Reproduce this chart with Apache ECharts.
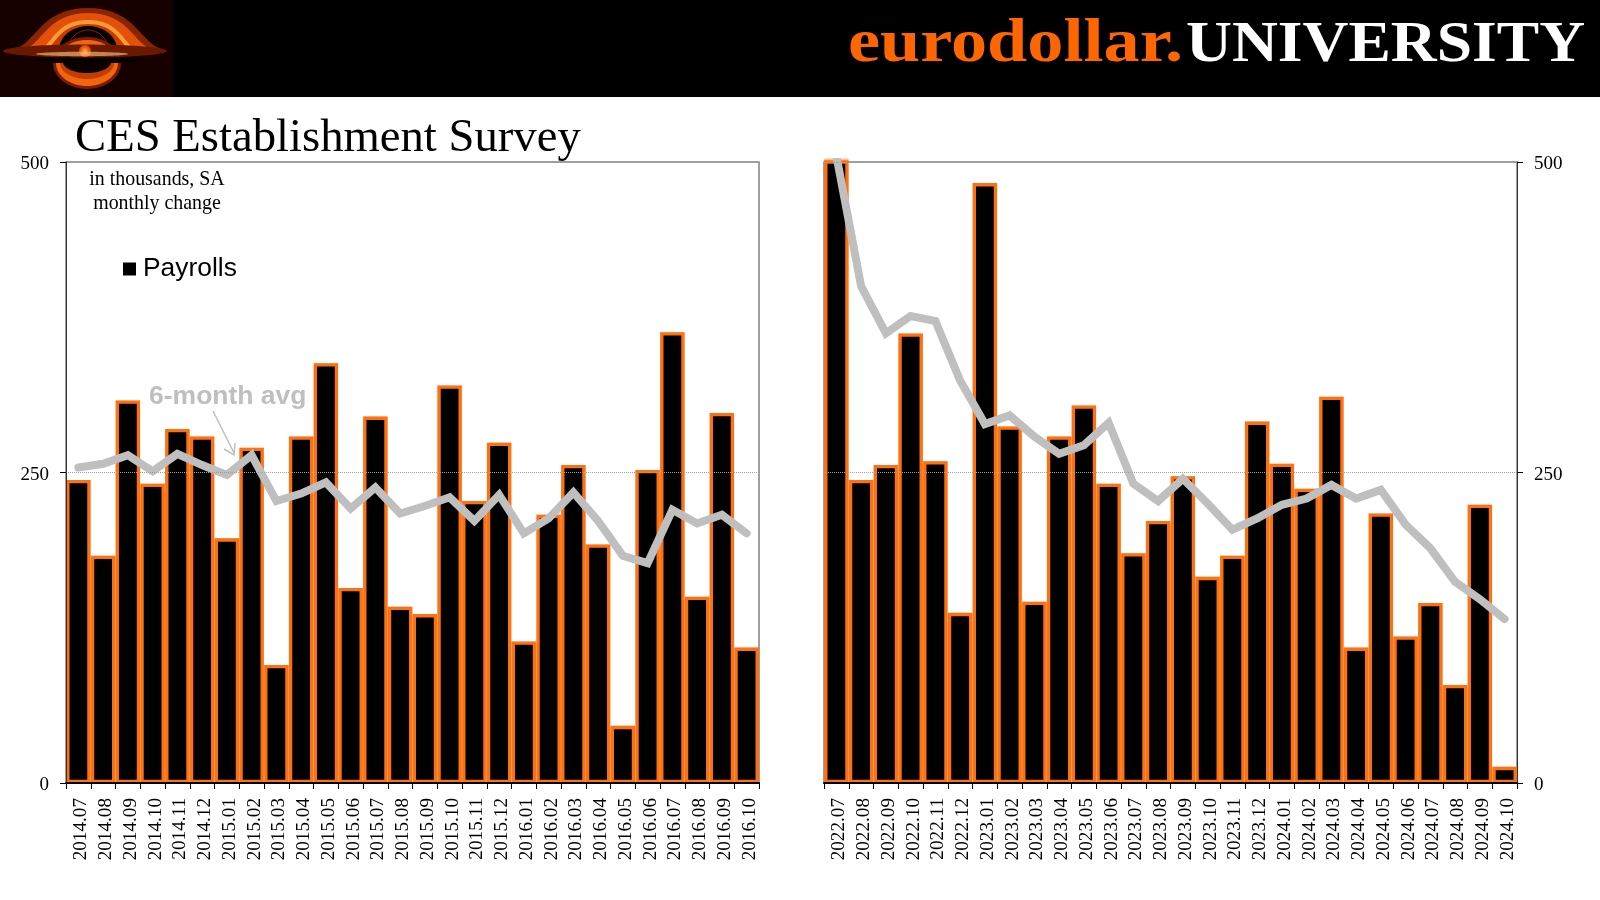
<!DOCTYPE html>
<html><head><meta charset="utf-8">
<style>html,body{margin:0;padding:0;background:#fff}#c{width:1600px;height:900px}</style>
<script src="https://cdn.jsdelivr.net/npm/echarts@6/dist/echarts.min.js"></script>
</head><body><div id="c"></div>
<script>
const monthsLeft = ['2014.07','2014.08','2014.09','2014.10','2014.11','2014.12','2015.01','2015.02','2015.03','2015.04','2015.05','2015.06','2015.07','2015.08','2015.09','2015.10','2015.11','2015.12','2016.01','2016.02','2016.03','2016.04','2016.05','2016.06','2016.07','2016.08','2016.09','2016.10'];
const payrollsLeft = [244,183,308,241,285,279,197,270,95,279,338,157,295,142,136,320,227,274,114,216,256,192,46,252,363,150,298,109];
const avgLeft = [254,257,264,251,265,256,248,264,227,233,242,221,238,217,223,230,211,232,201,213,234,211,183,177,220,209,216,201];
const monthsRight = ['2022.07','2022.08','2022.09','2022.10','2022.11','2022.12','2023.01','2023.02','2023.03','2023.04','2023.05','2023.06','2023.07','2023.08','2023.09','2023.10','2023.11','2023.12','2024.01','2024.02','2024.03','2024.04','2024.05','2024.06','2024.07','2024.08','2024.09','2024.10'];
const payrollsRight = [540,244,256,362,259,137,483,287,146,279,304,241,185,211,247,166,183,291,257,237,311,109,217,118,145,79,224,13];
const avgRight = [505,400,362,376,372,324,289,296,279,265,272,290,241,227,245,225,204,213,224,229,240,229,236,208,189,162,148,132];
const yTicks = [0,250,500];

const SERIF = '"Liberation Serif","Times New Roman",serif';
const SANS = '"Liberation Sans",Arial,sans-serif';
const chart = echarts.init(document.getElementById('c'), null, {renderer:'canvas'});

function xAxis(gridIndex, data){
  return {type:'category', gridIndex, data, boundaryGap:true, z:6,
    axisLine:{show:true, onZero:false, lineStyle:{color:'#000', width:2}},
    axisTick:{show:true, alignWithLabel:false, length:6, lineStyle:{color:'#000', width:1}},
    axisLabel:{interval:0, rotate:90, margin:15, formatter:v=>'{t|'+v+'}',
      rich:{t:{color:'#000', fontFamily:SERIF, fontSize:19.2, padding:[6,0,0,0]}}},
    splitLine:{show:false}};
}
function yAxis(gridIndex, position){
  return {type:'value', gridIndex, position, min:0, max:500, interval:250, z:6,
    axisLine:{show:true, lineStyle:{color:'#333', width:1}},
    axisTick:{show:true, length:6, lineStyle:{color:'#000', width:1}},
    axisLabel:{margin:17, formatter:v=>yTicks.includes(v)?'{t|'+v+'}':'',
      rich:{t:{color:'#000', fontFamily:SERIF, fontSize:19, padding:[5,0,0,0]}}},
    splitLine:{show:true, lineStyle:{color:'#a0a0a0', type:[1,1], width:1}}};
}
// soft outer halo drawn first, so it stays outside the black fill of the bars on top of it
function halo(i, data){
  return {name:'halo', type:'bar', xAxisIndex:i, yAxisIndex:i, data, barCategoryGap:'1.5%', barGap:'-100%', clip:true, z:2,
    itemStyle:{color:'#FF7010', borderColor:'rgba(255,112,16,0.45)', borderWidth:7},
    emphasis:{disabled:true}, silent:true, animation:false};
}
function bars(i, data){
  return {name:'Payrolls', type:'bar', xAxisIndex:i, yAxisIndex:i, data, barCategoryGap:'1.5%', barGap:'-100%', clip:true, z:3,
    itemStyle:{color:'#000', borderColor:'#FF7010', borderWidth:3.3},
    emphasis:{disabled:true}, animation:false};
}
function avg(i, data){
  return {name:'6-month avg', type:'line', xAxisIndex:i, yAxisIndex:i, data, showSymbol:false, symbol:'none', clip:true, z:4,
    lineStyle:{color:'#BFBFBF', width:8, cap:'round', join:'miter'}, animation:false};
}

const BG = '#160000';
// logo artwork: a symmetric dome outline sampled from a cubic curve
function dome(x0, cx1, cy1, cx2, top, centre){
  const pts = [];
  for (let t = 0; t <= 1.0001; t += 0.05){
    const u = 1 - t;
    pts.push([u*u*u*x0 + 3*u*u*t*cx1 + 3*u*t*t*cx2 + t*t*t*centre,
              u*u*u*50 + 3*u*u*t*cy1 + 3*u*t*t*top + t*t*t*top]);
  }
  const mirrored = pts.slice(0,-1).reverse().map(p => [2*centre - p[0], p[1]]);
  return pts.concat(mirrored);
}
const logo = [
  {type:'rect', shape:{x:0,y:0,width:173,height:97}, style:{fill:BG}},
  {type:'polygon', shape:{points:dome(10,36,47,38,8,88)}, style:{fill:'#8a2500'}},
  {type:'polygon', shape:{points:dome(22,42,46,46,13,88)}, style:{fill:'#E2500A'}},
  {type:'polygon', shape:{points:dome(40,52,44,56,20,88)}, style:{fill:'#FF9A35'}},
  {type:'polygon', shape:{points:dome(46,56,44,60,24,88)}, style:{fill:'#C23E00'}},
  {type:'ellipse', shape:{cx:88,cy:50,rx:29,ry:24}, style:{fill:'#0a0000'}},
  {type:'circle', shape:{cx:88,cy:50,r:20}, style:{fill:'none',stroke:'#7a2200',lineWidth:1}},
  {type:'rect', shape:{x:0,y:54,width:173,height:43}, style:{fill:BG}},
  {type:'ellipse', shape:{cx:87,cy:63,rx:34,ry:26}, style:{fill:'#7a1d00'}},
  {type:'ellipse', shape:{cx:87,cy:63,rx:31,ry:23}, style:{fill:'#F2640F'}},
  {type:'ellipse', shape:{cx:87,cy:63,rx:27,ry:16}, style:{fill:'#C23E00'}},
  {type:'ellipse', shape:{cx:87,cy:62,rx:24,ry:11}, style:{fill:'#0a0000'}},
  {type:'rect', shape:{x:40,y:54,width:96,height:9}, style:{fill:'#0a0000'}},
  {type:'ellipse', shape:{cx:85,cy:51,rx:82,ry:6.5}, style:{fill:{type:'radial',x:.5,y:.5,r:.5,colorStops:[{offset:0,color:'#FFB050'},{offset:.55,color:'#F06010'},{offset:.85,color:'#D04800'},{offset:1,color:'#6a1800'}]}}},
  {type:'ellipse', shape:{cx:82,cy:54,rx:46,ry:2.2}, style:{fill:'#FFD080',opacity:.6}}
];

const graphics = [
  {type:'rect', z:0, shape:{x:0,y:0,width:1600,height:97}, style:{fill:'#000'}},
  ...logo.map(g=>({...g, silent:true})),
  {type:'text', x:848, y:76, scaleX:1.165, style:{text:'eurodollar.', fill:'#FF6600', font:'bold 62px '+SERIF, textVerticalAlign:'bottom'}},
  {type:'text', x:1186, y:75, scaleX:1.096, style:{text:'UNIVERSITY', fill:'#fff', font:'bold 58px '+SERIF, textVerticalAlign:'bottom'}},
  {type:'text', x:75, y:115, style:{text:'CES Establishment Survey', fill:'#000', font:'46.7px '+SERIF}},
  {type:'text', x:157, y:170, z:10, style:{text:'in thousands, SA', fill:'#000', font:'19.9px '+SERIF, textAlign:'center'}},
  {type:'text', x:157, y:194, z:10, style:{text:'monthly change', fill:'#000', font:'19.9px '+SERIF, textAlign:'center'}},
  {type:'text', x:149, y:383, z:10, style:{text:'6-month avg', fill:'#BFBFBF', font:'bold 26.5px '+SANS}},
  {type:'polyline', z:10, shape:{points:[[213,411],[234,453]]}, style:{stroke:'#BFBFBF', lineWidth:1.5, fill:'none'}},
  {type:'polyline', z:10, shape:{points:[[224,449],[234,455],[235,443]]}, style:{stroke:'#BFBFBF', lineWidth:1.5, fill:'none'}}
];

chart.setOption({
  animation:false, backgroundColor:'#fff',
  grid:[
    {left:66, top:162, width:693, height:621, show:true, backgroundColor:'transparent', borderColor:'#808080', borderWidth:1.5, containLabel:false},
    {left:824, top:162, width:693, height:621, show:true, backgroundColor:'transparent', borderColor:'#808080', borderWidth:1.5, containLabel:false}
  ],
  legend:{show:true, data:[{name:'Payrolls', icon:'rect'}], left:118, top:251, itemWidth:13, itemHeight:13, selectedMode:false,
    itemStyle:{color:'#000', borderWidth:0, shadowBlur:0},
    textStyle:{color:'#000', fontFamily:SANS, fontSize:26.4, padding:[0,0,0,2]}},
  xAxis:[xAxis(0,monthsLeft), xAxis(1,monthsRight)],
  yAxis:[yAxis(0,'left'), yAxis(1,'right')],
  series:[halo(0,payrollsLeft), bars(0,payrollsLeft), avg(0,avgLeft), halo(1,payrollsRight), bars(1,payrollsRight), avg(1,avgRight)],
  graphic:{elements:graphics}
});
</script></body></html>
